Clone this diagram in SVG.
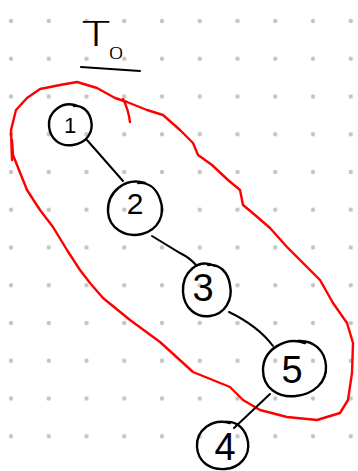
<svg xmlns="http://www.w3.org/2000/svg" width="358" height="471" viewBox="0 0 358 471">
<style>
.node{fill:none;stroke:#000;stroke-width:2.4;stroke-linecap:round;stroke-linejoin:round}
.lbl{font-family:"Liberation Sans",Arial,sans-serif;fill:#000;text-anchor:middle}
.title{font-family:"Roboto","Liberation Sans",Arial,sans-serif;font-weight:300;fill:#000;text-anchor:middle}
.edge{fill:none;stroke:#000;stroke-width:2;stroke-linecap:round}
.hull{fill:none;stroke:#ff0000;stroke-width:2.4;stroke-linecap:round;stroke-linejoin:round}
</style>
<defs>
<pattern id="dots" patternUnits="userSpaceOnUse" x="-7.875" y="2.125" width="37.75" height="37.75">
<circle cx="18.875" cy="18.875" r="2.2" fill="#c4c4c4"/>
</pattern>
</defs>
<rect width="358" height="471" fill="#fff"/>
<rect width="358" height="471" fill="url(#dots)"/>
<g id="title">
<text class="title" font-size="36" transform="translate(96,46) scale(1.35,1)">T</text>
<text class="title" font-size="17" transform="translate(116,59) scale(1.6,1)">0</text>
<path d="M81,67 L140,71" class="edge"/>
</g>
<g id="hull">
<path class="hull" d="M12,160 L11,130 L16,110 L27,98 L40,89 L60,85 L77,82 L97,88 L115,98 L127,102 L147,110 L163,115 L180,130 L193,143 L198,155 L212,165 L228,180 L240,190 L243,205 L255,215 L270,228 L287,247 L303,263 L320,280 L333,303 L347,323 L353,343 L352,373 L348,400 L340,413 L317,420 L287,417 L260,410 L243,400 L230,387 L193,372 L160,342 L130,320 L103,298 L90,283 L80,270 L67,250 L53,227 L40,210 L27,190 L13,155 L12,140"/>
<path class="hull" d="M123,99 Q128,108 130,122"/>
</g>
<g id="connectors">
<path class="edge" d="M87,140 L123,181"/>
<path class="edge" d="M152,236 L180,253 Q190,258 196,265"/>
<path class="edge" d="M229,312 Q258,326 273,346"/>
<path class="edge" d="M270,394 L234,428"/>
</g>
<g id="node1">
<path class="node" d="M78,106 C62,100 48,112 49,126 C50,139 60,147 73,145 C86,143 94,133 91,120 C89,111 82,105 74,106"/>
<text class="lbl" font-size="22" x="70" y="133">1</text>
</g>
<g id="node2">
<path class="node" d="M145,183 C125,177 107,192 108,212 C109,228 125,238 142,234 C158,230 166,215 160,199 C156,188 148,182 138,183"/>
<text class="lbl" font-size="30" x="135" y="214">2</text>
</g>
<g id="node3">
<path class="node" d="M215,266 C198,258 182,272 183,292 C184,308 196,318 210,316 C225,314 233,300 230,285 C228,272 220,264 208,265"/>
<text class="lbl" font-size="38" x="203" y="301">3</text>
</g>
<g id="node5">
<path class="node" d="M305,343 C285,336 263,350 263,370 C263,388 278,398 296,396 C314,394 327,382 326,366 C325,350 313,340 298,341"/>
<text class="lbl" font-size="38" x="292" y="383">5</text>
</g>
<g id="node4">
<path class="node" d="M230,423 C212,418 196,430 197,447 C198,462 210,470 225,469 C240,468 250,456 248,442 C246,430 238,421 226,422"/>
<text class="lbl" font-size="38" x="225" y="460">4</text>
</g>
</svg>
